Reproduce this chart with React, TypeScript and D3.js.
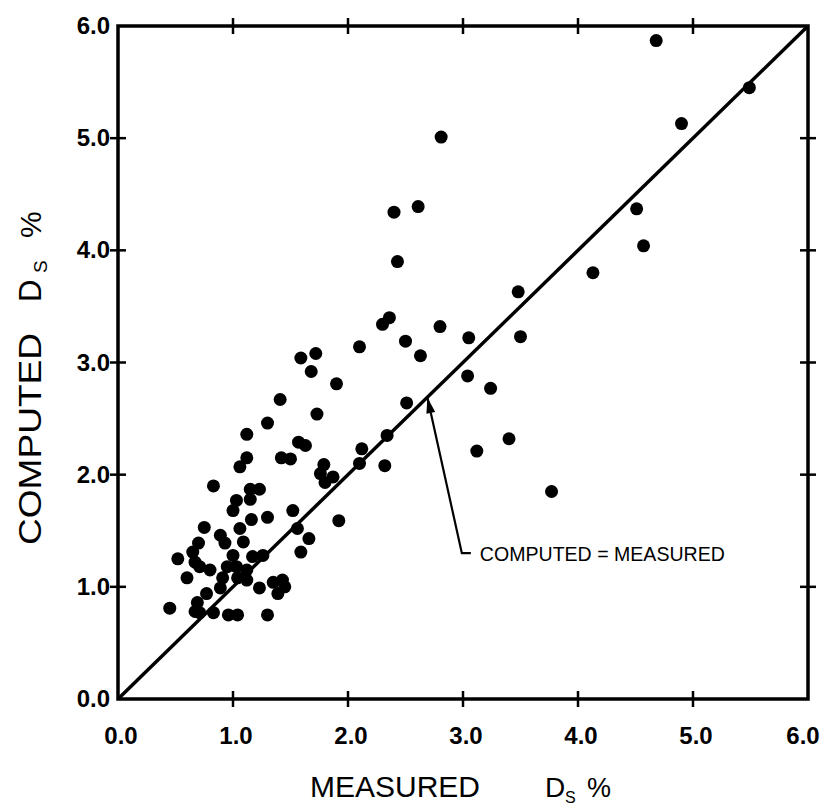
import React from "react";
import * as d3 from "d3";

// Measured Ds % (x) and Computed Ds % (y)
const measured = [
  4.68, 5.49, 4.90, 4.51, 4.57, 4.13, 3.48, 3.50, 3.05, 3.04, 3.24, 3.40, 3.12, 3.77,
  2.81, 2.40, 2.61, 2.43, 2.36, 2.30, 2.80, 2.50, 2.63, 2.10, 2.51, 2.34, 2.12, 2.10,
  2.32, 1.90, 1.79, 1.76, 1.87, 1.80, 1.59, 1.72, 1.68, 1.41, 1.73, 1.30, 1.12, 1.57,
  1.63, 1.42, 1.50, 1.12, 1.06, 0.83, 1.15, 1.23, 1.03, 1.15, 1.00, 1.52, 1.30, 1.16,
  1.92, 0.75, 1.06, 1.56, 0.89, 1.09, 0.93, 0.70, 1.66, 1.59, 1.26, 1.00, 1.17, 0.52,
  0.65, 0.67, 0.71, 0.80, 0.95, 1.03, 1.12, 0.60, 0.91, 1.04, 1.12, 0.89, 0.77, 1.23,
  1.35, 1.43, 1.45, 1.39, 0.45, 0.69, 0.67, 0.71, 0.83, 0.96, 1.04, 1.30,
];
const computed = [
  5.87, 5.45, 5.13, 4.37, 4.04, 3.80, 3.63, 3.23, 3.22, 2.88, 2.77, 2.32, 2.21, 1.85,
  5.01, 4.34, 4.39, 3.90, 3.40, 3.34, 3.32, 3.19, 3.06, 3.14, 2.64, 2.35, 2.23, 2.10,
  2.08, 2.81, 2.09, 2.01, 1.98, 1.93, 3.04, 3.08, 2.92, 2.67, 2.54, 2.46, 2.36, 2.29,
  2.26, 2.15, 2.14, 2.15, 2.07, 1.90, 1.87, 1.87, 1.77, 1.78, 1.68, 1.68, 1.62, 1.60,
  1.59, 1.53, 1.52, 1.52, 1.46, 1.40, 1.39, 1.39, 1.43, 1.31, 1.28, 1.28, 1.27, 1.25,
  1.31, 1.22, 1.18, 1.15, 1.18, 1.18, 1.15, 1.08, 1.08, 1.08, 1.06, 0.99, 0.94, 0.99,
  1.04, 1.06, 1.00, 0.94, 0.81, 0.86, 0.78, 0.77, 0.77, 0.75, 0.75, 0.75,
];

const tickValues = [0, 1, 2, 3, 4, 5, 6];
const tickLabels = ["0.0", "1.0", "2.0", "3.0", "4.0", "5.0", "6.0"];
const annotationText = "COMPUTED = MEASURED";
const xTitle = "MEASURED";
const yTitle = "COMPUTED";
const symbolD = "D";
const symbolSub = "S";
const unit = "%";

export default function App() {
  const W = 824;
  const H = 808;
  const x = d3.scaleLinear().domain([0, 6]).range([118, 808]);
  const y = d3.scaleLinear().domain([0, 6]).range([699, 26]);
  const line = d3
    .line<[number, number]>()
    .x((d) => x(d[0]))
    .y((d) => y(d[1]));

  const innerTicks = tickValues.filter((t) => t > 0 && t < 6);
  const tl = 8;
  const font = "'Liberation Sans', Arial, sans-serif";

  // annotation geometry (data coords)
  const tip: [number, number] = [2.69, 2.69];
  const elbow: [number, number] = [2.99, 1.3];
  const tipPx = [x(tip[0]), y(tip[1])];
  const elbowPx = [x(elbow[0]), y(elbow[1])];
  const ang = Math.atan2(elbowPx[1] - tipPx[1], elbowPx[0] - tipPx[0]);
  const ah = 16;
  const aw = 4.5;
  const bx = tipPx[0] + Math.cos(ang) * ah;
  const by = tipPx[1] + Math.sin(ang) * ah;
  const arrowPts = [
    [tipPx[0], tipPx[1]],
    [bx - Math.sin(ang) * aw, by + Math.cos(ang) * aw],
    [bx + Math.sin(ang) * aw, by - Math.cos(ang) * aw],
  ]
    .map((p) => p.join(","))
    .join(" ");

  return (
    <svg
      width={W}
      height={H}
      style={{ position: "absolute", left: 0, top: 0, background: "#fff" }}
    >
      <rect x={0} y={0} width={W} height={H} fill="#fff" />
      {/* frame */}
      <rect
        x={x(0)}
        y={y(6)}
        width={x(6) - x(0)}
        height={y(0) - y(6)}
        fill="none"
        stroke="#000"
        strokeWidth={3.5}
      />
      {/* ticks on all four sides */}
      {innerTicks.map((t) => (
        <g key={"t" + t} stroke="#000" strokeWidth={2.5}>
          <line x1={x(t)} x2={x(t)} y1={y(0) - tl} y2={y(0) + tl} />
          <line x1={x(t)} x2={x(t)} y1={y(6) - tl} y2={y(6) + tl} />
          <line x1={x(0) - tl} x2={x(0) + tl} y1={y(t)} y2={y(t)} />
          <line x1={x(6) - tl} x2={x(6) + tl} y1={y(t)} y2={y(t)} />
        </g>
      ))}
      {/* x tick labels */}
      {tickValues.map((t, i) => (
        <text
          key={"xl" + t}
          x={Math.min(x(t) + 3, 803)}
          y={744}
          textAnchor="middle"
          fontFamily={font}
          fontWeight="bold"
          fontSize={24}
          fill="#000"
        >
          {tickLabels[i]}
        </text>
      ))}
      {/* y tick labels */}
      {tickValues.map((t, i) => (
        <text
          key={"yl" + t}
          x={110}
          y={y(t) + 8}
          textAnchor="end"
          fontFamily={font}
          fontWeight="bold"
          fontSize={24}
          fill="#000"
        >
          {tickLabels[i]}
        </text>
      ))}
      {/* 1:1 line */}
      <path
        d={line([
          [0, 0],
          [6, 6],
        ]) || ""}
        fill="none"
        stroke="#000"
        strokeWidth={3.5}
      />
      {/* points */}
      {measured.map((m, i) => (
        <circle key={"p" + i} cx={x(m)} cy={y(computed[i])} r={6.5} fill="#000" />
      ))}
      {/* annotation */}
      <polyline
        points={`${tipPx[0]},${tipPx[1]} ${elbowPx[0]},${elbowPx[1]} ${elbowPx[0] + 9},${elbowPx[1]}`}
        fill="none"
        stroke="#000"
        strokeWidth={2.2}
      />
      <polygon points={arrowPts} fill="#000" />
      <text
        x={elbowPx[0] + 18}
        y={elbowPx[1] + 8}
        fontFamily={font}
        fontSize={21}
        textLength={245}
        lengthAdjust="spacingAndGlyphs"
        fill="#000"
      >
        {annotationText}
      </text>
      {/* y title */}
      <g fontFamily={font} fill="#000">
        <text
          transform="translate(41,545) rotate(-90)"
          fontSize={32}
          textLength={212}
          lengthAdjust="spacingAndGlyphs"
        >
          {yTitle}
        </text>
        <text transform="translate(41,302) rotate(-90)" fontSize={31}>
          {symbolD}
        </text>
        <text transform="translate(47,273) rotate(-90)" fontSize={19}>
          {symbolSub}
        </text>
        <text transform="translate(41,238) rotate(-90)" fontSize={30}>
          {unit}
        </text>
      </g>
      {/* x title */}
      <g fontFamily={font} fill="#000">
        <text
          x={310}
          y={797}
          fontSize={29}
          textLength={170}
          lengthAdjust="spacingAndGlyphs"
        >
          {xTitle}
        </text>
        <text x={545} y={797} fontSize={28}>
          {symbolD}
        </text>
        <text x={565} y={803} fontSize={16}>
          {symbolSub}
        </text>
        <text x={587} y={797} fontSize={27}>
          {unit}
        </text>
      </g>
    </svg>
  );
}
